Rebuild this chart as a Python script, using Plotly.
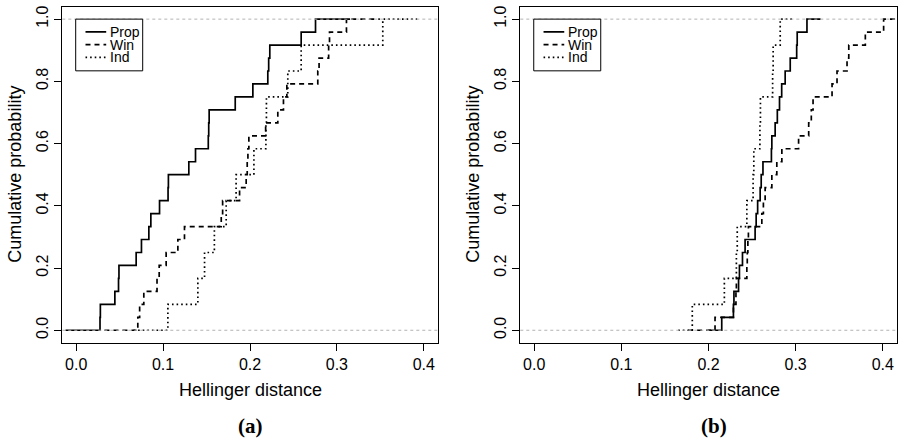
import numpy as np
import plotly.graph_objects as go

# Tick marks and labels
x_ticks = [0.0, 0.1, 0.2, 0.3, 0.4]
x_tick_labels = ["0.0", "0.1", "0.2", "0.3", "0.4"]
y_ticks = [0.0, 0.2, 0.4, 0.6, 0.8, 1.0]
y_tick_labels = ["0.0", "0.2", "0.4", "0.6", "0.8", "1.0"]

series_names = ["Prop", "Win", "Ind"]
panel_labels = ["(a)", "(b)"]
x_title = "Hellinger distance"
y_title = "Cumulative probability"

# Hellinger distances, panel (a)
prop_a = [0.0274, 0.0278, 0.0445, 0.0487, 0.0492, 0.0690, 0.0751, 0.0836,
          0.0859, 0.0959, 0.1057, 0.1061, 0.1296, 0.1373, 0.1520, 0.1525,
          0.1530, 0.1830, 0.2033, 0.2205, 0.2215, 0.2228, 0.2589, 0.2754]
win_a = [0.0709, 0.0730, 0.0778, 0.0930, 0.0955, 0.1035, 0.1170, 0.1246,
         0.1669, 0.1685, 0.1880, 0.1956, 0.1968, 0.1976, 0.1987, 0.2180,
         0.2320, 0.2385, 0.2424, 0.2780, 0.2795, 0.2905, 0.2915, 0.3110]
ind_a = [0.1055, 0.1400, 0.1477, 0.1590, 0.1726, 0.1840, 0.2045, 0.2183,
         0.2189, 0.2435, 0.2589, 0.3528]

# Hellinger distances, panel (b)
prop_b = [0.2152, 0.2286, 0.2292, 0.2345, 0.2355, 0.2390, 0.2420, 0.2535,
          0.2547, 0.2564, 0.2593, 0.2605, 0.2625, 0.2722, 0.2727, 0.2765,
          0.2790, 0.2815, 0.2840, 0.2880, 0.2938, 0.3012, 0.3018, 0.3130]
win_b = [0.2075, 0.2286, 0.2315, 0.2320, 0.2440, 0.2445, 0.2452, 0.2458,
         0.2612, 0.2630, 0.2650, 0.2727, 0.2784, 0.2842, 0.3034, 0.3150,
         0.3180, 0.3200, 0.3418, 0.3475, 0.3590, 0.3610, 0.3800, 0.4010]
ind_b = [0.1814, 0.2182, 0.2320, 0.2330, 0.2440, 0.2512, 0.2520, 0.2590,
         0.2596, 0.2736, 0.2742, 0.2823]

W, H = 898, 439
SANS = "Liberation Sans, Arial, Helvetica, sans-serif"
SERIF = "Liberation Serif, Times New Roman, serif"

line_styles = {
    "Prop": dict(color="black", width=1.7, dash="solid"),
    "Win": dict(color="black", width=1.7, dash="5px,4px"),
    "Ind": dict(color="black", width=1.7, dash="1.6px,3px"),
}


def ecdf_steps(values):
    """Step outline of an empirical CDF; like R's plot.stepfun(add=TRUE),
    the flat parts run 2*dr beyond the smallest and largest knot."""
    v = np.sort(np.asarray(values, dtype=float))
    knots, counts = np.unique(v, return_counts=True)
    cum = np.cumsum(counts) / len(v)
    if len(knots) > 1:
        dr = max(0.08 * (knots[-1] - knots[0]), float(np.median(np.diff(knots))))
    else:
        dr = abs(knots[0]) / 16
    xs = np.concatenate([[knots[0] - 2 * dr], knots, [knots[-1] + 2 * dr]])
    ys = np.concatenate([[0.0], cum, [1.0]])
    return xs, ys


def px_x(p):
    return p / W


def px_y(p):
    return 1 - p / H


fig = go.Figure()

panels = [
    dict(data=[prop_a, win_a, ind_a], xa="x", ya="y",
         dom=(62.3, 437.7), label_x=251, title_x=250, ytitle_x=15),
    dict(data=[prop_b, win_b, ind_b], xa="x2", ya="y2",
         dom=(520.3, 896.7), label_x=714, title_x=708.5, ytitle_x=473),
]

shapes = []
annotations = []

for i, pan in enumerate(panels):
    for name, vals in zip(series_names, pan["data"]):
        xs, ys = ecdf_steps(vals)
        fig.add_trace(go.Scatter(
            x=xs, y=ys, mode="lines", line_shape="hv",
            line=line_styles[name], name=name, showlegend=False,
            xaxis=pan["xa"], yaxis=pan["ya"], hoverinfo="skip",
        ))

    # reference lines at 0 and 1
    for h in (0.0, 1.0):
        shapes.append(dict(
            type="line", xref=f"{pan['xa']} domain", yref=pan["ya"],
            x0=0, x1=1, y0=h, y1=h, layer="above",
            line=dict(color="#b3b3b3", width=1, dash="3px,3px"),
        ))

    # legend box anchored at the top-left data corner (0, 1)
    shapes.append(dict(
        type="rect", xref=pan["xa"], yref=pan["ya"],
        xsizemode="pixel", ysizemode="pixel", xanchor=0, yanchor=1,
        x0=-0.5, x1=66.5, y0=-51.7, y1=0, layer="above",
        fillcolor="white", line=dict(color="black", width=1),
    ))
    for k, name in enumerate(series_names):
        dy = -12.7 - 12.8 * k
        shapes.append(dict(
            type="line", xref=pan["xa"], yref=pan["ya"],
            xsizemode="pixel", ysizemode="pixel", xanchor=0, yanchor=1,
            x0=9.3, x1=30.0, y0=dy, y1=dy, layer="above",
            line=line_styles[name],
        ))
        annotations.append(dict(
            text=name, xref=pan["xa"], yref=pan["ya"], x=0, y=1,
            xshift=33, yshift=dy, xanchor="left", yanchor="middle",
            showarrow=False, borderpad=0,
            font=dict(family=SANS, size=14, color="black"),
        ))

    # axis titles and panel label
    annotations.append(dict(
        text=x_title, xref="paper", yref="paper",
        x=px_x(pan["title_x"]), y=px_y(390), xanchor="center", yanchor="middle",
        showarrow=False, font=dict(family=SANS, size=18, color="black"),
    ))
    annotations.append(dict(
        text=y_title, xref="paper", yref="paper", textangle=-90,
        x=px_x(pan["ytitle_x"]), y=px_y(174.7), xanchor="center", yanchor="middle",
        showarrow=False, font=dict(family=SANS, size=18, color="black"),
    ))
    annotations.append(dict(
        text="<b>" + panel_labels[i] + "</b>", xref="paper", yref="paper",
        x=px_x(pan["label_x"]), y=px_y(426), xanchor="center", yanchor="middle",
        showarrow=False, font=dict(family=SERIF, size=21, color="black"),
    ))

axis_common = dict(
    showgrid=False, zeroline=False, showline=True, mirror=True,
    linecolor="black", linewidth=1, ticks="outside", ticklen=7,
    tickwidth=1, tickcolor="black",
    tickfont=dict(family=SANS, size=16, color="black"),
)

y_dom = (px_y(342.7), px_y(6.7))

layout = dict(
    width=W, height=H,
    margin=dict(l=0, r=0, t=0, b=0),
    paper_bgcolor="white", plot_bgcolor="white",
    showlegend=False,
    shapes=shapes, annotations=annotations,
)
for i, pan in enumerate(panels):
    sfx = "" if i == 0 else "2"
    layout["xaxis" + sfx] = dict(
        axis_common, domain=[px_x(pan["dom"][0]), px_x(pan["dom"][1])],
        range=[-0.016, 0.416], tickvals=x_ticks, ticktext=x_tick_labels,
        anchor="y" + sfx,
    )
    layout["yaxis" + sfx] = dict(
        axis_common, domain=list(y_dom), range=[-0.04, 1.04],
        tickvals=y_ticks, ticktext=y_tick_labels, tickangle=-90,
        anchor="x" + sfx,
    )

fig.update_layout(**layout)
fig.write_html("out.html")
